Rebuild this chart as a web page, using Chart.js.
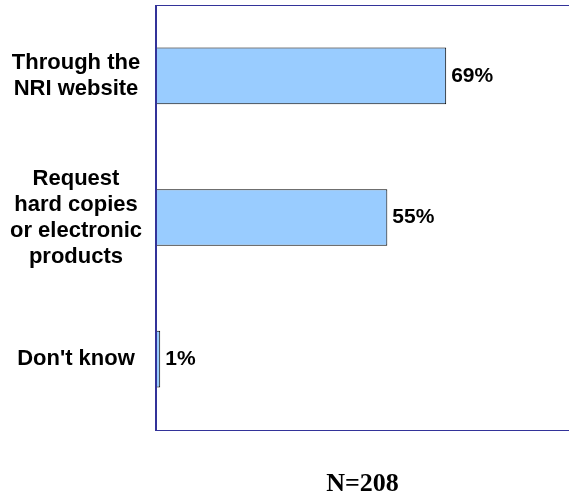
<!DOCTYPE html>
<html>
<head>
<meta charset="utf-8">
<script src="https://cdn.jsdelivr.net/npm/chart.js@4/dist/chart.umd.min.js"></script>
<style>
  html, body { margin: 0; padding: 0; background: #fff; }
  #wrap { width: 569px; height: 498px; position: relative; }
</style>
</head>
<body>
<div id="wrap"><canvas id="chart"></canvas></div>
<script>
const categories = [
  ['Through the', 'NRI website'],
  ['Request', 'hard copies', 'or electronic', 'products'],
  ["Don't know"]
];
const percentages = [69, 55, 1];
const sampleNote = 'N=208';

const axisColor = '#333399';
const sans = "'Liberation Sans', Arial, sans-serif";

// plot frame: top, left and bottom edges (right edge falls outside the picture)
const framePlugin = {
  id: 'frame',
  afterDatasetsDraw(chart) {
    const { ctx, chartArea: a } = chart;
    ctx.save();
    ctx.strokeStyle = axisColor;
    ctx.lineWidth = 1;
    ctx.beginPath();
    ctx.moveTo(a.left, a.top + 0.5);
    ctx.lineTo(a.right, a.top + 0.5);
    ctx.moveTo(a.left, a.bottom + 0.5);
    ctx.lineTo(a.right, a.bottom + 0.5);
    ctx.stroke();
    ctx.lineWidth = 2;
    ctx.beginPath();
    ctx.moveTo(a.left, a.top);
    ctx.lineTo(a.left, a.bottom + 1);
    ctx.stroke();
    ctx.restore();
  }
};

const valueLabels = {
  id: 'valueLabels',
  afterDatasetsDraw(chart) {
    const { ctx } = chart;
    const meta = chart.getDatasetMeta(0);
    ctx.save();
    ctx.font = 'bold 21px ' + sans;
    ctx.fillStyle = '#000';
    ctx.textAlign = 'left';
    ctx.textBaseline = 'middle';
    meta.data.forEach((bar, i) => {
      ctx.fillText(percentages[i] + '%', bar.x + 5, bar.y);
    });
    ctx.restore();
  }
};

new Chart(document.getElementById('chart'), {
  type: 'bar',
  data: {
    labels: categories,
    datasets: [{
      data: percentages,
      backgroundColor: '#99CCFF',
      borderColor: '#000',
      borderWidth: 1,
      categoryPercentage: 1,
      barPercentage: 0.4
    }]
  },
  options: {
    indexAxis: 'y',
    responsive: true,
    maintainAspectRatio: false,
    animation: false,
    layout: { padding: { top: 5, left: 0, right: 0, bottom: 0 } },
    plugins: {
      legend: { display: false },
      tooltip: { enabled: false }
    },
    scales: {
      x: {
        min: 0,
        max: 98.2,
        grid: { display: false },
        border: { display: false },
        ticks: { display: false },
        title: {
          display: true,
          text: sampleNote,
          color: '#000',
          font: { family: "'Liberation Serif', 'Times New Roman', serif", weight: 'bold', size: 26, lineHeight: 1 },
          padding: { top: 0, bottom: 1 }
        },
        afterFit(scale) {
          scale.height = 68;
          scale.paddingLeft = 0;
          scale.paddingRight = 0;
        }
      },
      y: {
        grid: { display: false },
        border: { display: false },
        ticks: {
          color: '#000',
          crossAlign: 'center',
          padding: 6,
          font: { family: sans, weight: 'bold', size: 22, lineHeight: 1.18 }
        },
        afterFit(scale) {
          scale.width = 156;
          scale.paddingTop = 0;
          scale.paddingBottom = 0;
        }
      }
    }
  },
  plugins: [framePlugin, valueLabels]
});
</script>
</body>
</html>
